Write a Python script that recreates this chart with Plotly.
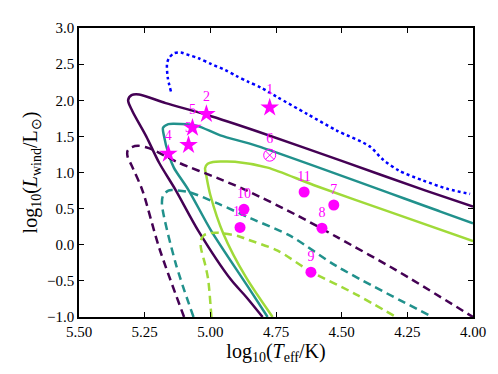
import plotly.graph_objects as go

# curves: log10(Teff) vs log10(L_wind)
dotted_x = [5.150, 5.162, 5.165, 5.158, 5.139, 5.113, 5.090, 5.045, 4.996, 4.944, 4.902,
            4.857, 4.808, 4.744, 4.632, 4.519, 4.395, 4.342, 4.282, 4.192, 4.094, 4.011]
dotted_y = [2.122, 2.311, 2.50, 2.581, 2.649, 2.662, 2.635, 2.581, 2.50, 2.419, 2.338,
            2.257, 2.176, 2.041, 1.811, 1.581, 1.365, 1.176, 1.027, 0.892, 0.770, 0.703]

purple_x = [4.801, 4.865, 4.921, 5.045, 5.132, 5.195, 5.244, 5.297, 5.313, 5.30, 5.271,
            5.17, 5.015, 4.82, 4.5, 4.18, 4.0]
purple_y = [-1.0, -0.716, -0.486, 0.189, 0.757, 1.135, 1.50, 1.851, 2.0, 2.07, 2.08,
            1.96, 1.80, 1.568, 1.16, 0.75, 0.527]

teal_x = [4.782, 4.857, 4.996, 5.083, 5.139, 5.158, 5.177, 5.18, 5.16, 5.139, 5.053,
          4.962, 4.82, 4.124, 4.0]
teal_y = [-1.0, -0.58, 0.189, 0.757, 1.068, 1.243, 1.514, 1.62, 1.67, 1.676, 1.649,
          1.514, 1.365, 0.459, 0.297]

green_x = [4.763, 4.865, 4.95, 5.0, 5.015, 5.02, 5.01, 4.99, 4.96, 4.906, 4.782, 4.605, 4.32, 4.0]
green_y = [-1.0, -0.446, 0.15, 0.689, 0.95, 1.06, 1.12, 1.145, 1.152, 1.149, 1.068, 0.824, 0.459, 0.05]

purple_d_x = [5.10, 5.195, 5.259, 5.300, 5.315, 5.315, 5.30, 5.275, 5.245, 5.222, 5.120,
              4.970, 4.857, 4.669, 4.519, 4.293, 4.0]
purple_d_y = [-1.0, -0.04, 0.757, 1.10, 1.22, 1.30, 1.35, 1.37, 1.35, 1.32, 1.135,
              0.919, 0.743, 0.405, 0.108, -0.351, -1.0]

teal_d_x = [5.064, 5.132, 5.184, 5.18, 5.16, 5.147, 5.083, 4.97, 4.846, 4.695, 4.519, 4.154]
teal_d_y = [-1.0, -0.257, 0.554, 0.68, 0.75, 0.757, 0.730, 0.568, 0.365, 0.122, -0.297, -1.0]

green_d_x = [4.996, 5.008, 5.019, 5.036, 5.036, 5.025, 5.0, 4.97, 4.895, 4.865, 4.744, 4.62, 4.444, 4.293]
green_d_y = [-1.0, -0.486, -0.284, -0.04, 0.06, 0.13, 0.16, 0.165, 0.122, 0.081, -0.081, -0.365, -0.689, -1.0]

# stars
star_x = [4.774, 5.015, 5.083, 5.16, 5.068]
star_y = [1.90, 1.81, 1.38, 1.26, 1.62]
star_lbl = ['1', '2', '3', '4', '5']

# open circle with cross
ox_x = [4.774]
ox_y = [1.24]
ox_lbl = ['6']

# filled circles
dot_x = [4.53, 4.575, 4.617, 4.872, 4.643, 4.887]
dot_y = [0.55, 0.23, -0.38, 0.49, 0.73, 0.24]
dot_lbl = ['7', '8', '9', '10', '11', '12']

PURPLE = '#440154'
TEAL = '#21918c'
GREEN = '#a0da39'
MAG = '#ff00ff'
FONT = 'Liberation Serif'

fig = go.Figure()

def add_curve(x, y, color, dash):
    fig.add_trace(go.Scatter(x=x, y=y, mode='lines',
                             line=dict(color=color, width=2.5, dash=dash, shape='spline', smoothing=0.8),
                             showlegend=False))

add_curve(dotted_x, dotted_y, '#0000ff', 'dot')
add_curve(purple_x, purple_y, PURPLE, 'solid')
add_curve(teal_x, teal_y, TEAL, 'solid')
add_curve(green_x, green_y, GREEN, 'solid')
add_curve(purple_d_x, purple_d_y, PURPLE, '8px,5px')
add_curve(teal_d_x, teal_d_y, TEAL, '8px,5px')
add_curve(green_d_x, green_d_y, GREEN, '8px,5px')

lbl_font = dict(color=MAG, size=14, family=FONT)
fig.add_trace(go.Scatter(x=star_x, y=star_y, mode='markers+text', text=star_lbl,
                         textposition='top center', textfont=lbl_font,
                         marker=dict(symbol='star', size=14, color=MAG, line=dict(width=0)),
                         showlegend=False))
fig.add_trace(go.Scatter(x=ox_x, y=ox_y, mode='markers+text', text=ox_lbl,
                         textposition='top center', textfont=lbl_font,
                         marker=dict(symbol='circle-x-open', size=12, color=MAG, line=dict(width=1)),
                         showlegend=False))
fig.add_trace(go.Scatter(x=dot_x, y=dot_y, mode='markers+text', text=dot_lbl,
                         textposition='top center', textfont=lbl_font,
                         marker=dict(symbol='circle', size=11, color=MAG, line=dict(width=0)),
                         showlegend=False))

axis_style = dict(showgrid=False, zeroline=False, showline=True, linecolor='black', linewidth=1.5,
                  mirror='ticks', ticks='inside', ticklen=5, tickwidth=1.2, tickcolor='black',
                  tickfont=dict(family=FONT, size=15, color='black'))

fig.update_xaxes(range=[5.5, 4.0], tickvals=[5.5, 5.25, 5.0, 4.75, 4.5, 4.25, 4.0], tickformat='.2f',
                 title=dict(text='log<sub>10</sub>(<i>T</i><sub>eff</sub>/K)', font=dict(family=FONT, size=20),
                            standoff=4),
                 **axis_style)
fig.update_yaxes(range=[-1.0, 3.0], dtick=0.5, tickformat='.1f',
                 title=dict(text='log<sub>10</sub>(<i>L</i><sub>wind</sub>/L<sub>⊙</sub>)',
                            font=dict(family=FONT, size=20), standoff=4),
                 **axis_style)

fig.update_layout(width=490, height=366, margin=dict(l=71, r=20, t=14, b=57),
                  plot_bgcolor='white', paper_bgcolor='white', font=dict(family=FONT, color='black'))

fig.write_html("out.html")
